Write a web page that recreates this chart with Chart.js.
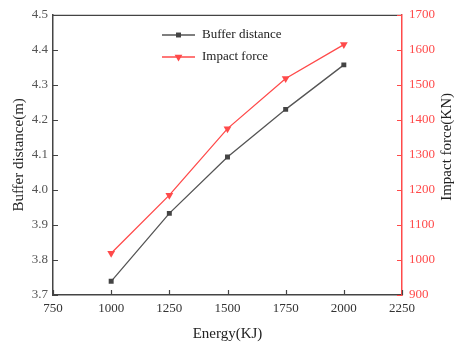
<!DOCTYPE html>
<html>
<head>
<meta charset="utf-8">
<script src="https://cdn.jsdelivr.net/npm/chart.js@4/dist/chart.umd.min.js"></script>
<style>
  html, body { margin: 0; padding: 0; background: #fff; }
  #wrap { width: 454px; height: 343px; }
</style>
</head>
<body>
<div id="wrap"><canvas id="energyChart" width="454" height="343"></canvas></div>
<script>
// values
const energy = [1000, 1250, 1500, 1750, 2000];
const bufferDistance = [3.739, 3.933, 4.094, 4.230, 4.357];
const impactForce = [1019, 1185, 1375, 1518, 1615];

const xTicks = [750, 1000, 1250, 1500, 1750, 2000, 2250];
const leftTicks = [3.7, 3.8, 3.9, 4.0, 4.1, 4.2, 4.3, 4.4, 4.5];
const rightTicks = [900, 1000, 1100, 1200, 1300, 1400, 1500, 1600, 1700];

const FONT = '"Liberation Serif", "Times New Roman", serif';
const RED = '#ff4a4a';
const GREY = '#555555';

function toPoints(xs, ys) {
    return xs.map(function(x, i) { return { x: x, y: ys[i] }; });
}

// inward ticks, top border, right title and the legend box
const decorations = {
    id: 'decorations',
    afterDraw: function(chart) {
        const ctx = chart.ctx;
        const area = chart.chartArea;
        const sx = chart.scales.x, sy = chart.scales.y, sy1 = chart.scales.y1;
        ctx.save();
        ctx.lineWidth = 1.2;

        ctx.strokeStyle = '#444';
        ctx.beginPath();
        xTicks.forEach(function(v) {
            const px = Math.round(sx.getPixelForValue(v)) + 0.5;
            ctx.moveTo(px, area.bottom);
            ctx.lineTo(px, area.bottom - 5);
        });
        leftTicks.forEach(function(v) {
            const py = Math.round(sy.getPixelForValue(v)) + 0.5;
            ctx.moveTo(area.left, py);
            ctx.lineTo(area.left + 5, py);
        });
        ctx.moveTo(area.left, area.top + 0.5);
        ctx.lineTo(area.right, area.top + 0.5);
        ctx.stroke();

        ctx.strokeStyle = RED;
        ctx.beginPath();
        rightTicks.forEach(function(v) {
            const py = Math.round(sy1.getPixelForValue(v)) + 0.5;
            ctx.moveTo(area.right, py);
            ctx.lineTo(area.right - 5, py);
        });
        ctx.stroke();

        // right axis title, reading bottom to top like the left one
        ctx.fillStyle = '#222';
        ctx.font = '15px ' + FONT;
        ctx.textAlign = 'center';
        ctx.textBaseline = 'middle';
        ctx.translate(447, (area.top + area.bottom) / 2 - 8);
        ctx.rotate(-Math.PI / 2);
        ctx.fillText('Impact force(KN)', 0, 0);
        ctx.restore();

        // legend
        ctx.save();
        const rows = [
            { label: 'Buffer distance', color: GREY, fill: '#444', style: 'rect', r: 3.5, y: 35 },
            { label: 'Impact force', color: RED, fill: RED, style: 'triangle', r: 4.5, y: 57 }
        ];
        rows.forEach(function(row) {
            ctx.strokeStyle = row.color;
            ctx.lineWidth = 1.3;
            ctx.beginPath();
            ctx.moveTo(162, row.y);
            ctx.lineTo(195, row.y);
            ctx.stroke();
            ctx.fillStyle = row.fill;
            Chart.helpers.drawPoint(ctx, {
                pointStyle: row.style,
                radius: row.r,
                rotation: row.style === 'triangle' ? 180 : 0,
                borderWidth: 0
            }, 178.5, row.y);
            ctx.fillStyle = '#222';
            ctx.font = '13px ' + FONT;
            ctx.textAlign = 'left';
            ctx.textBaseline = 'middle';
            ctx.fillText(row.label, 202, row.y);
        });
        ctx.restore();
    }
};

document.addEventListener('DOMContentLoaded', function() {
    const ctx = document.getElementById('energyChart').getContext('2d');
    new Chart(ctx, {
        type: 'line',
        data: {
            datasets: [{
                label: 'Buffer distance',
                data: toPoints(energy, bufferDistance),
                yAxisID: 'y',
                borderColor: GREY,
                borderWidth: 1.3,
                backgroundColor: '#444',
                pointStyle: 'rect',
                pointRadius: 3.5,
                pointBorderWidth: 0,
                tension: 0
            }, {
                label: 'Impact force',
                data: toPoints(energy, impactForce),
                yAxisID: 'y1',
                borderColor: RED,
                borderWidth: 1.3,
                backgroundColor: RED,
                pointStyle: 'triangle',
                pointRotation: 180,
                pointRadius: 4.5,
                pointBorderWidth: 0,
                tension: 0
            }]
        },
        options: {
            responsive: false,
            animation: false,
            layout: { padding: { top: 14, left: 0, right: 0, bottom: 0 } },
            scales: {
                x: {
                    type: 'linear',
                    min: 750,
                    max: 2250,
                    afterBuildTicks: function(scale) {
                        scale.ticks = xTicks.map(function(v) { return { value: v }; });
                    },
                    grid: { drawOnChartArea: false, drawTicks: false },
                    border: { color: '#444', width: 1.5 },
                    ticks: {
                        color: '#333',
                        padding: 6,
                        font: { family: FONT, size: 13 },
                        maxRotation: 0,
                        callback: function(v) { return String(v); }
                    },
                    title: {
                        display: true,
                        text: 'Energy(KJ)',
                        color: '#222',
                        font: { family: FONT, size: 15 },
                        padding: { top: 4, bottom: 0 }
                    },
                    afterFit: function(scale) { scale.height = 48; }
                },
                y: {
                    position: 'left',
                    min: 3.7,
                    max: 4.5,
                    afterBuildTicks: function(scale) {
                        scale.ticks = leftTicks.map(function(v) { return { value: v }; });
                    },
                    grid: { drawOnChartArea: false, drawTicks: false },
                    border: { color: '#444', width: 1.5 },
                    ticks: {
                        color: GREY,
                        padding: 5,
                        font: { family: FONT, size: 13 },
                        callback: function(v) { return v.toFixed(1); }
                    },
                    title: {
                        display: true,
                        text: 'Buffer distance(m)',
                        color: '#222',
                        font: { family: FONT, size: 15 },
                        padding: { top: 10, bottom: 0 }
                    },
                    afterFit: function(scale) { scale.width = 53; }
                },
                y1: {
                    position: 'right',
                    min: 900,
                    max: 1700,
                    afterBuildTicks: function(scale) {
                        scale.ticks = rightTicks.map(function(v) { return { value: v }; });
                    },
                    grid: { drawOnChartArea: false, drawTicks: false },
                    border: { color: RED, width: 1.5 },
                    ticks: {
                        color: RED,
                        padding: 7,
                        font: { family: FONT, size: 13 },
                        callback: function(v) { return String(v); }
                    },
                    afterFit: function(scale) { scale.width = 52; }
                }
            },
            plugins: {
                legend: { display: false },
                tooltip: { enabled: false }
            }
        },
        plugins: [decorations]
    });
});
</script>
</body>
</html>
